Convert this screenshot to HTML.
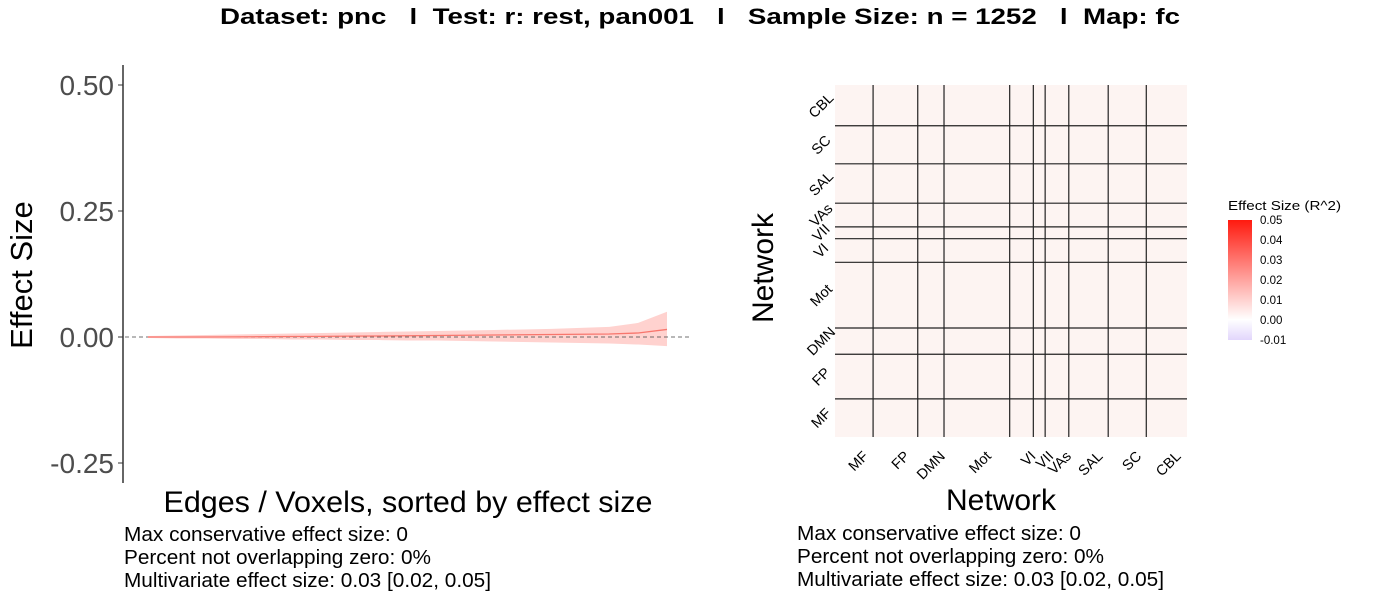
<!DOCTYPE html>
<html><head><meta charset="utf-8"><style>
body{margin:0;background:#fff;width:1400px;height:600px;overflow:hidden;font-family:"Liberation Sans",sans-serif}
svg{position:absolute;left:0;top:0}
text{white-space:pre}
</style></head><body>
<svg id="c" width="1400" height="600" xmlns="http://www.w3.org/2000/svg">
<defs>
<linearGradient id="lg" x1="0" y1="1" x2="0" y2="0">
<stop offset="0" stop-color="#e2d6fc"/><stop offset="0.17" stop-color="#ffffff"/><stop offset="1" stop-color="#ff1a0f"/>
</linearGradient>
</defs>
<text x="700" y="24" text-anchor="middle" font-size="22" font-weight="bold" xml:space="preserve" textLength="960" lengthAdjust="spacingAndGlyphs">Dataset: pnc   l  Test: r: rest, pan001   l   Sample Size: n = 1252   l  Map: fc</text>
<g id="left"></g>
<g id="right"></g>
<g id="legend">
<text x="1228" y="210" font-size="13" textLength="113" lengthAdjust="spacingAndGlyphs">Effect Size (R^2)</text>
<rect x="1228" y="220" width="24" height="120" fill="url(#lg)"/>
</g>
<g font-size="20">
<text x="124" y="541" textLength="284" lengthAdjust="spacingAndGlyphs">Max conservative effect size: 0</text>
<text x="124" y="564" textLength="307" lengthAdjust="spacingAndGlyphs">Percent not overlapping zero: 0%</text>
<text x="124" y="587" textLength="367" lengthAdjust="spacingAndGlyphs">Multivariate effect size: 0.03 [0.02, 0.05]</text>
</g>
<g font-size="20">
<text x="797" y="540" textLength="284" lengthAdjust="spacingAndGlyphs">Max conservative effect size: 0</text>
<text x="797" y="563" textLength="307" lengthAdjust="spacingAndGlyphs">Percent not overlapping zero: 0%</text>
<text x="797" y="586" textLength="367" lengthAdjust="spacingAndGlyphs">Multivariate effect size: 0.03 [0.02, 0.05]</text>
</g>
</svg>
<script>
const yTicks=[0.5,0.25,0,-0.25];
const yTickLabels=["0.50","0.25","0.00","-0.25"];
const effVals=[0,0,0,0.0003,0.0006,0.001,0.0013,0.0017,0.002,0.0025,0.003,0.0035,0.004,0.0045,0.005,0.0055,0.006,0.008,0.015];
const effUpper=[0.002,0.003,0.004,0.005,0.006,0.007,0.008,0.009,0.01,0.011,0.012,0.013,0.014,0.015,0.016,0.018,0.02,0.028,0.05];
const effLower=[-0.002,-0.003,-0.003,-0.004,-0.004,-0.005,-0.005,-0.006,-0.006,-0.007,-0.007,-0.008,-0.009,-0.01,-0.011,-0.012,-0.013,-0.015,-0.018];
const networks=["MF","FP","DMN","Mot","VI","VII","VAs","SAL","SC","CBL"];
const netSizes=[29,34,20,50,18,9,18,30,29,31];
const legendTicks=[0.05,0.04,0.03,0.02,0.01,0,-0.01];
const legendLabels=["0.05","0.04","0.03","0.02","0.01","0.00","-0.01"];
const NS="http://www.w3.org/2000/svg";
function mk(p,t,a){const e=document.createElementNS(NS,t);for(const k in a)e.setAttribute(k,a[k]);p.appendChild(e);return e;}
const L=document.getElementById('left');
const yS=v=>337-v*504;
const xS=i=>148+(i/(effVals.length-1))*(667-148);
let ax=mk(L,'line',{x1:123,y1:65,x2:123,y2:483,stroke:'#000','stroke-width':1.2});

yTicks.forEach((v,i)=>{
 let t=mk(L,'line',{x1:118,x2:123,y1:yS(v),y2:yS(v),stroke:'#333'});
 
 let tx=mk(L,'text',{x:114,y:yS(v)+10,'text-anchor':'end','font-size':28,fill:'#4d4d4d'});tx.textContent=yTickLabels[i];
 
});
let yt=mk(L,'text',{transform:'translate(32,275) rotate(-90)','text-anchor':'middle','font-size':31});yt.textContent='Effect Size';

let xt=mk(L,'text',{x:408,y:512,'text-anchor':'middle','font-size':30,textLength:489,lengthAdjust:'spacingAndGlyphs'});xt.textContent='Edges / Voxels, sorted by effect size';

let d='M'+effUpper.map((v,i)=>xS(i)+','+yS(v)).join('L')+'L'+effLower.map((v,i)=>[xS(i),yS(v)]).reverse().map(p=>p.join(',')).join('L')+'Z';
let rb=mk(L,'path',{d:d,fill:'#ffd2cf'});
let zl=mk(L,'line',{x1:125,x2:690,y1:yS(0),y2:yS(0),stroke:'#444','stroke-dasharray':'4,3','stroke-width':0.8});

let ln=mk(L,'path',{d:'M'+effVals.map((v,i)=>xS(i)+','+yS(v)).join('L'),fill:'none',stroke:'#f8766d','stroke-width':1.3});


const R=document.getElementById('right');
const X0=835,X1=1187,Y0=85,Y1=437;const tot=netSizes.reduce((a,b)=>a+b,0);
const sx=(X1-X0)/tot,sy=(Y1-Y0)/tot;
let bg=mk(R,'rect',{x:X0,y:Y0,width:X1-X0,height:Y1-Y0,fill:'#fdf4f2'});

let cum=0;const bounds=[0];netSizes.forEach(s=>{cum+=s;bounds.push(cum);});
for(let i=1;i<bounds.length-1;i++){
 let x=X0+bounds[i]*sx,y=Y1-bounds[i]*sy;
 let v=mk(R,'line',{x1:x,x2:x,y1:Y0,y2:Y1,stroke:'#222','stroke-width':1.2});
 
 let h=mk(R,'line',{x1:X0,x2:X1,y1:y,y2:y,stroke:'#222','stroke-width':1.2});
 
}
networks.forEach((n,i)=>{
 let cx=X0+(bounds[i]+netSizes[i]/2)*sx, cy=Y1-(bounds[i]+netSizes[i]/2)*sy;
 let a=mk(R,'text',{transform:`translate(${cx+8},${450}) rotate(-45)`,'text-anchor':'end','font-size':14.5,y:10});a.textContent=n;
 
 let b=mk(R,'text',{transform:`translate(${821},${cy}) rotate(-45)`,'text-anchor':'middle','font-size':14.5,y:5});b.textContent=n;
 
});
let hx=mk(R,'text',{x:1001,y:510,'text-anchor':'middle','font-size':30});hx.textContent='Network';

let hy=mk(R,'text',{transform:'translate(773,268) rotate(-90)','text-anchor':'middle','font-size':30});hy.textContent='Network';


const G=document.getElementById('legend');
const lY=v=>320-v*2000;
legendTicks.forEach((v,i)=>{
 let t=mk(G,'text',{x:1260,y:lY(v)+4,'font-size':11.5});t.textContent=legendLabels[i];
 
});
</script>
</body></html>
